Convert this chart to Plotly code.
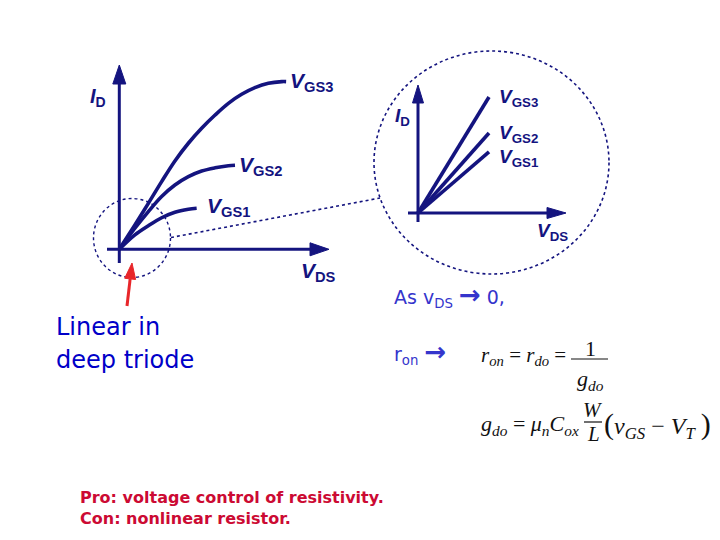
import math
import plotly.graph_objects as go

# ---------------- data ----------------
# Left chart: I_D vs V_DS curves (normalized units)
vds_vgs3 = [0, 0.094, 0.175, 0.255, 0.335, 0.416, 0.496, 0.577, 0.657, 0.737, 0.817, 0.898, 0.979, 1.005]
id_vgs3 = [0, 0.146, 0.275, 0.405, 0.529, 0.635, 0.725, 0.804, 0.874, 0.928, 0.968, 0.994, 1.004, 1.004]
vds_vgs2 = [0, 0.094, 0.175, 0.255, 0.335, 0.416, 0.496, 0.577, 0.657, 0.697]
id_vgs2 = [0, 0.126, 0.226, 0.316, 0.385, 0.435, 0.469, 0.488, 0.500, 0.503]
vds_vgs1 = [0, 0.094, 0.175, 0.255, 0.335, 0.416, 0.466]
id_vgs1 = [0, 0.086, 0.141, 0.189, 0.222, 0.240, 0.246]

# Inset: deep triode, straight lines
vds_small = [0, 1.0]
id_small_vgs1 = [0, 0.526]
id_small_vgs2 = [0, 0.69]
id_small_vgs3 = [0, 1.0]

curve_names = ["GS1", "GS2", "GS3"]

# ---------------- style / layout constants ----------------
W, H = 720, 540
OFF = 8  # page body margin offset
NAVY = "#14147f"
BLUE = "#0000c8"
LBLUE = "#3535cc"
RED = "#cc0a33"
BLACK = "#111111"

# left chart pixel origin and scale
L_OX, L_OY, L_SX, L_SY = 119.3, 249.3, 166.0, 167.0
# inset pixel origin and scale
I_OX, I_OY, I_SX, I_SY = 418.0, 213.0, 71.0, 116.0


def xr(ox, sx):
    o = ox - OFF
    return [-o / sx, (W - o) / sx]


def yr(oy, sy):
    o = oy - OFF
    return [(o - H) / sy, o / sy]


fig = go.Figure()

line_style = dict(color=NAVY, width=3.6, shape="spline", smoothing=1.0)
for xs, ys in [(vds_vgs1, id_vgs1), (vds_vgs2, id_vgs2), (vds_vgs3, id_vgs3)]:
    fig.add_trace(go.Scatter(x=xs, y=ys, xaxis="x2", yaxis="y2", mode="lines",
                             line=line_style, hoverinfo="skip", showlegend=False))

for ys in [id_small_vgs1, id_small_vgs2, id_small_vgs3]:
    fig.add_trace(go.Scatter(x=vds_small, y=ys, xaxis="x3", yaxis="y3", mode="lines",
                             line=dict(color=NAVY, width=3.6), hoverinfo="skip",
                             showlegend=False))

shapes = []


def seg(x0, y0, x1, y1, color=NAVY, width=3, dash="solid"):
    shapes.append(dict(type="line", xref="x", yref="y", x0=x0, y0=y0, x1=x1, y1=y1,
                       line=dict(color=color, width=width, dash=dash), layer="above"))


def tri(points, color=NAVY):
    p = "M " + " L ".join(f"{x},{y}" for x, y in points) + " Z"
    shapes.append(dict(type="path", xref="x", yref="y", path=p, fillcolor=color,
                       line=dict(color=color, width=1), layer="above"))


# left axes
seg(L_OX, 263, L_OX, 80)
tri([(L_OX, 65), (L_OX - 6.5, 84), (L_OX + 6.5, 84)])
seg(107, L_OY, 312, L_OY)
tri([(329, L_OY), (310, L_OY - 6.5), (310, L_OY + 6.5)])

# inset axes
seg(I_OX, 222, I_OX, 100)
tri([(I_OX, 85), (I_OX - 5.5, 103), (I_OX + 5.5, 103)])
seg(408, I_OY, 550, I_OY)
tri([(566, I_OY), (547, I_OY - 5.5), (547, I_OY + 5.5)])

# dotted circles and connector
shapes.append(dict(type="circle", xref="x", yref="y", x0=93.5, y0=198.5, x1=170.5, y1=277.5,
                   line=dict(color=NAVY, width=1.4, dash="dot"), layer="above"))
shapes.append(dict(type="circle", xref="x", yref="y", x0=374, y0=51, x1=609, y1=274,
                   line=dict(color=NAVY, width=1.6, dash="dot"), layer="above"))
seg(171, 237.5, 380, 198, width=1.6, dash="dot")

# red arrow
tx, ty, sx_, sy_ = 132.0, 263.0, 127.0, 306.0
dx, dy = tx - sx_, ty - sy_
n = math.hypot(dx, dy)
ux, uy = dx / n, dy / n
bx, by = tx - 16 * ux, ty - 16 * uy
px_, py_ = -uy, ux
seg(sx_, sy_, bx, by, color="#e8262a", width=3)
tri([(tx, ty), (bx + 5.5 * px_, by + 5.5 * py_), (bx - 5.5 * px_, by - 5.5 * py_)],
    color="#e8262a")

# fraction bars
seg(571, 359, 608, 359, color=BLACK, width=1.2)
seg(584, 422, 602, 422, color=BLACK, width=1.2)

annotations = []


def txt(x, y, text, size, color, family="Liberation Sans", xanchor="left",
        yanchor="middle"):
    annotations.append(dict(x=x, y=y, xref="x", yref="y", text=text, showarrow=False,
                            xanchor=xanchor, yanchor=yanchor,
                            font=dict(size=size, color=color, family=family)))


def vlabel(name):
    return f"<b><i>V</i><sub>{name}</sub></b>"


# left labels
txt(288, 82, vlabel(curve_names[2]), 21, NAVY)
txt(237, 166, vlabel(curve_names[1]), 21, NAVY)
txt(205, 207, vlabel(curve_names[0]), 21, NAVY)
txt(88, 97, "<b><i>I</i><sub>D</sub></b>", 20, NAVY)
txt(299, 272, "<b><i>V</i><sub>DS</sub></b>", 21, NAVY)

# inset labels
txt(497, 98, vlabel(curve_names[2]), 19, NAVY)
txt(497, 134, vlabel(curve_names[1]), 19, NAVY)
txt(497, 158, vlabel(curve_names[0]), 19, NAVY)
txt(393, 117, "<b><i>I</i><sub>D</sub></b>", 19, NAVY)
txt(535, 232, "<b><i>V</i><sub>DS</sub></b>", 19, NAVY)

# text blocks
txt(54, 327, "Linear in", 24, BLUE, family="DejaVu Sans")
txt(54, 360, "deep triode", 24, BLUE, family="DejaVu Sans")
txt(78, 497, "<b>Pro: voltage control of resistivity.</b>", 16, RED, family="DejaVu Sans")
txt(78, 518, "<b>Con: nonlinear resistor.</b>", 16, RED, family="DejaVu Sans")

ARROW = "<span style='font-size:26px'><b>→</b></span>"
txt(392, 295, f"As v<sub>DS</sub> {ARROW} 0,", 19, LBLUE, family="DejaVu Sans")
txt(392, 352, f"r<sub>on</sub> {ARROW}", 19, LBLUE, family="DejaVu Sans")

# formulas
SER = "Liberation Serif"
txt(479, 356, "<i>r</i><sub><i>on</i></sub> = <i>r</i><sub><i>do</i></sub> =", 21, BLACK, SER)
txt(590, 348, "1", 22, BLACK, SER, xanchor="center")
txt(590, 380, "<i>g</i><sub><i>do</i></sub>", 22, BLACK, SER, xanchor="center")

txt(479, 425, "<i>g</i><sub><i>do</i></sub> = <i>μ</i><sub><i>n</i></sub><i>C</i><sub><i>ox</i></sub>",
    22, BLACK, SER)
txt(593, 410, "<i>W</i>", 21, BLACK, SER, xanchor="center")
txt(593, 434, "<i>L</i>", 21, BLACK, SER, xanchor="center")
txt(602, 425, "<span style='font-size:30px'>(</span><i>v</i><sub><i>GS</i></sub> − <i>V</i><sub><i>T</i></sub> <span style='font-size:30px'>)</span>",
    24, BLACK, SER)

fig.update_layout(
    width=W, height=H, margin=dict(l=0, r=0, t=0, b=0),
    paper_bgcolor="white", plot_bgcolor="white", showlegend=False,
    xaxis=dict(range=[OFF, W + OFF], visible=False, fixedrange=True),
    yaxis=dict(range=[H + OFF, OFF], visible=False, fixedrange=True),
    xaxis2=dict(range=xr(L_OX, L_SX), overlaying="x", visible=False, anchor="y2"),
    yaxis2=dict(range=yr(L_OY, L_SY), overlaying="y", visible=False, anchor="x2"),
    xaxis3=dict(range=xr(I_OX, I_SX), overlaying="x", visible=False, anchor="y3"),
    yaxis3=dict(range=yr(I_OY, I_SY), overlaying="y", visible=False, anchor="x3"),
    shapes=shapes, annotations=annotations,
)

fig.write_html("out.html")
